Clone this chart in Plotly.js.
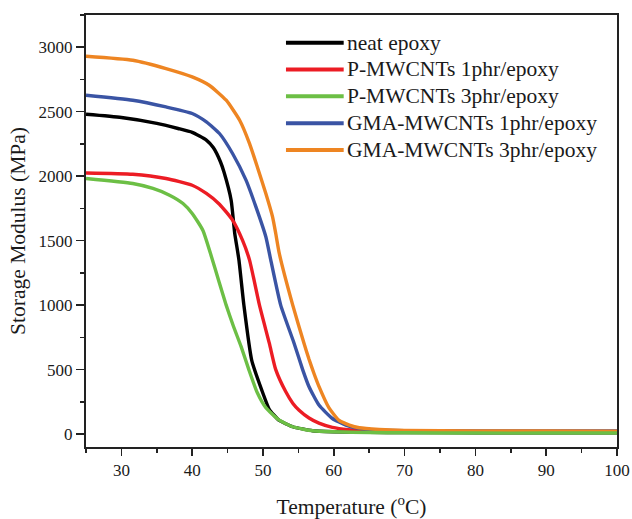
<!DOCTYPE html>
<html>
<head>
<meta charset="utf-8">
<script src="https://cdn.plot.ly/plotly-3.0.1.min.js"></script>
<style>html,body{margin:0;padding:0;background:#fff;}#chart{width:632px;height:519px;}</style>
</head>
<body>
<div id="chart"></div>
<script>
// ---- Data ----
var seriesNames = [
  "neat epoxy",
  "P-MWCNTs 1phr/epoxy",
  "P-MWCNTs 3phr/epoxy",
  "GMA-MWCNTs 1phr/epoxy",
  "GMA-MWCNTs 3phr/epoxy"
];

var neatX = [25,30,35,38,40,42,43,44,44.5,45.5,46,46.6,47.3,48.4,50.0,50.9,51.5,52.3,54.2,57,60,65,70,80,90,100];
var neatY = [2480,2455,2410,2370,2340,2280,2220,2110,2030,1814,1560,1350,1000,574,315,190,150,106,57,26,18,14,12,11,11,11];

var p1X = [25,31.6,36.3,40,42,43.85,45.7,47.1,48.1,49.5,50.9,51.8,53.2,54.2,55.1,56.5,57.9,59.8,62,65,70,80,90,100];
var p1Y = [2025,2015,1982,1930,1866,1783,1659,1504,1349,1000,703,500,330,240,185,125,85,52,35,27,22,20,20,20];

var p3X = [25,31.6,34.45,36.8,38.7,40,41.5,42.7,43.8,44.8,45.8,46.9,48.0,49.2,50.4,52.3,54.2,57,60,65,70,80,90,100];
var p3Y = [1982,1943,1905,1853,1788,1711,1581,1380,1180,1000,840,680,500,320,205,108,57,26,18,12,10,8,8,8];

var g1X = [25,31.6,36.3,40,42,43.85,45.7,47.6,49.0,50.4,51.1,52.5,54.4,55.6,56.5,57.9,59.8,61.7,63.6,66,70,80,90,100];
var g1Y = [2628,2589,2537,2486,2421,2331,2176,1969,1762,1530,1349,1000,703,500,367,225,121,70,44,32,27,25,25,25];

var g3X = [25,31.6,36.3,40,42.4,44.8,46.7,48.1,49.2,50.4,51.35,51.8,52.3,54.2,55.8,56.5,57.2,57.9,59.3,60.7,62.2,63.6,66.4,70,80,90,100];
var g3Y = [2930,2899,2835,2770,2705,2589,2434,2253,2072,1866,1685,1556,1401,1000,703,580,470,370,205,108,70,49,36,28,25,24,22];

var xTickVals = [30,40,50,60,70,80,90,100];
var yTickVals = [0,500,1000,1500,2000,2500,3000];

// ---- Styles ----
var colors = ["#000000", "#ec1c24", "#6cbf45", "#3a54a4", "#ee8522"];
var xs = [neatX, p1X, p3X, g1X, g3X];
var ys = [neatY, p1Y, p3Y, g1Y, g3Y];
var serif = "Liberation Serif, Times New Roman, serif";

// draw green above black where they overlap (as in reference)
var order = [0, 1, 3, 4, 2];
var traces = order.map(function (i) {
  return {
    type: "scatter", mode: "lines", name: seriesNames[i],
    x: xs[i], y: ys[i],
    line: {color: colors[i], width: 3.4, shape: "spline", smoothing: 0.5},
    showlegend: false
  };
});

// custom legend (long line samples like the reference)
var shapes = [], annotations = [];
var legY0 = 0.936, legStep = 0.0621;
seriesNames.forEach(function (name, i) {
  var yy = legY0 - i * legStep;
  shapes.push({type: "line", xref: "paper", yref: "paper",
    x0: 0.3766, x1: 0.4853, y0: yy, y1: yy,
    line: {color: colors[i], width: 4}});
  annotations.push({xref: "paper", yref: "paper", x: 0.4878, y: yy,
    xanchor: "left", yanchor: "middle", text: name, showarrow: false,
    font: {family: serif, size: 21.5, color: "#1a1a1a"}});
});

var layout = {
  width: 632, height: 519,
  margin: {l: 86, r: 15, t: 15, b: 72},
  paper_bgcolor: "#ffffff", plot_bgcolor: "#ffffff",
  font: {family: serif, color: "#1a1a1a"},
  xaxis: {
    range: [25, 100], tickvals: xTickVals,
    ticks: "outside", ticklen: 7, tickwidth: 1.5, tickcolor: "#222",
    minor: {dtick: 5, tick0: 0, ticks: "outside", ticklen: 4, tickwidth: 1.5, tickcolor: "#222", showgrid: false},
    showline: true, linecolor: "#222", linewidth: 2, mirror: true,
    showgrid: false, zeroline: false,
    tickfont: {family: serif, size: 17, color: "#1a1a1a"},
    title: {text: "Temperature (<sup>o</sup>C)", font: {family: serif, size: 21.5, color: "#1a1a1a"}, standoff: 20}
  },
  yaxis: {
    range: [-100, 3250], tickvals: yTickVals,
    ticks: "outside", ticklen: 8, tickwidth: 1.5, tickcolor: "#222",
    minor: {dtick: 250, tick0: 0, ticks: "outside", ticklen: 4, tickwidth: 1.5, tickcolor: "#222", showgrid: false},
    showline: true, linecolor: "#222", linewidth: 2, mirror: true,
    showgrid: false, zeroline: false,
    tickfont: {family: serif, size: 17, color: "#1a1a1a"},
    title: {text: "Storage Modulus (MPa)", font: {family: serif, size: 21.5, color: "#1a1a1a"}, standoff: 7}
  },
  shapes: shapes,
  annotations: annotations
};

Plotly.newPlot("chart", traces, layout, {staticPlot: true, displayModeBar: false});
</script>
</body>
</html>
